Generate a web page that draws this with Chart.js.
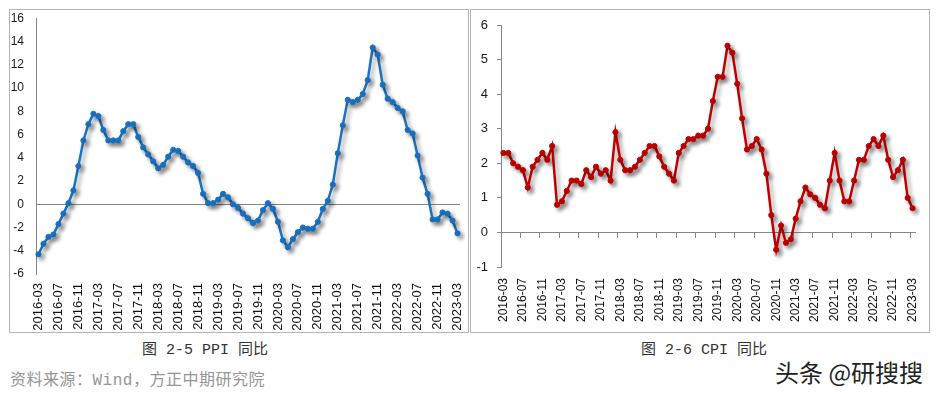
<!DOCTYPE html>
<html>
<head>
<meta charset="utf-8">
<script src="https://cdn.jsdelivr.net/npm/chart.js@4/dist/chart.umd.min.js"></script>
<style>
    html, body { margin: 0; padding: 0; background: #fff; }
    body { width: 936px; height: 394px; position: relative; overflow: hidden; font-family: 'Noto Sans CJK SC', sans-serif; }
    .panel { position: absolute; top: 9px; width: 458px; height: 322px; border: 1px solid #b4b4b4; }
    #ppiPanel { left: 9px; }
    #cpiPanel { left: 470px; }
    .panel canvas { display: block; }
    .caption { position: absolute; top: 341px; line-height: 20px; font-family: 'Liberation Mono', 'Noto Sans CJK SC', monospace; font-size: 15px; color: #333; white-space: nowrap; transform: translateX(-50%); }
    .source { position: absolute; left: 10px; top: 371px; line-height: 20px; font-family: 'Liberation Mono', 'Noto Sans CJK SC', monospace; font-size: 16px; color: #959595; white-space: nowrap; letter-spacing: 0.5px; }
    .mark { position: absolute; left: 775px; top: 358px; line-height: 28px; font-size: 24px; color: #222; white-space: nowrap; text-shadow: 0 0 2px #fff; }
</style>
</head>
<body>
<div class="panel" id="ppiPanel"><canvas id="ppiChart" width="458" height="322"></canvas></div>
<div class="panel" id="cpiPanel"><canvas id="cpiChart" width="458" height="322"></canvas></div>
<div class="caption" style="left: 205px;">图 2-5 PPI 同比</div>
<div class="caption" style="left: 704px;">图 2-6 CPI 同比</div>
<div class="source">资料来源：Wind，方正中期研究院</div>
<div class="mark">头条 @研搜搜</div>

<script>
const months = [
    '2016-03', '2016-04', '2016-05', '2016-06', '2016-07', '2016-08', '2016-09', '2016-10', '2016-11', '2016-12',
    '2017-01', '2017-02', '2017-03', '2017-04', '2017-05', '2017-06', '2017-07', '2017-08', '2017-09', '2017-10', '2017-11', '2017-12',
    '2018-01', '2018-02', '2018-03', '2018-04', '2018-05', '2018-06', '2018-07', '2018-08', '2018-09', '2018-10', '2018-11', '2018-12',
    '2019-01', '2019-02', '2019-03', '2019-04', '2019-05', '2019-06', '2019-07', '2019-08', '2019-09', '2019-10', '2019-11', '2019-12',
    '2020-01', '2020-02', '2020-03', '2020-04', '2020-05', '2020-06', '2020-07', '2020-08', '2020-09', '2020-10', '2020-11', '2020-12',
    '2021-01', '2021-02', '2021-03', '2021-04', '2021-05', '2021-06', '2021-07', '2021-08', '2021-09', '2021-10', '2021-11', '2021-12',
    '2022-01', '2022-02', '2022-03', '2022-04', '2022-05', '2022-06', '2022-07', '2022-08', '2022-09', '2022-10', '2022-11', '2022-12',
    '2023-01', '2023-02', '2023-03',
];

const ppi = [
    -4.3, -3.4, -2.8, -2.6, -1.7, -0.8, 0.1, 1.2, 3.3, 5.5,
    6.9, 7.8, 7.6, 6.4, 5.5, 5.5, 5.5, 6.3, 6.9, 6.9, 5.8, 4.9,
    4.3, 3.7, 3.1, 3.4, 4.1, 4.7, 4.6, 4.1, 3.6, 3.3, 2.7, 0.9,
    0.1, 0.1, 0.4, 0.9, 0.6, 0.0, -0.3, -0.8, -1.2, -1.6, -1.4, -0.5,
    0.1, -0.4, -1.5, -3.1, -3.7, -3.0, -2.4, -2.0, -2.1, -2.1, -1.5, -0.4,
    0.3, 1.7, 4.4, 6.8, 9.0, 8.8, 9.0, 9.5, 10.7, 13.5, 12.9, 10.3,
    9.1, 8.8, 8.3, 8.0, 6.4, 6.1, 4.2, 2.3, 0.9, -1.3, -1.3, -0.7,
    -0.8, -1.4, -2.5,
];

const cpi = [
    2.3, 2.3, 2.0, 1.9, 1.8, 1.3, 1.9, 2.1, 2.3, 2.1,
    2.5, 0.8, 0.9, 1.2, 1.5, 1.5, 1.4, 1.8, 1.6, 1.9, 1.7, 1.8,
    1.5, 2.9, 2.1, 1.8, 1.8, 1.9, 2.1, 2.3, 2.5, 2.5, 2.2, 1.9,
    1.7, 1.5, 2.3, 2.5, 2.7, 2.7, 2.8, 2.8, 3.0, 3.8, 4.5, 4.5,
    5.4, 5.2, 4.3, 3.3, 2.4, 2.5, 2.7, 2.4, 1.7, 0.5, -0.5, 0.2,
    -0.3, -0.2, 0.4, 0.9, 1.3, 1.1, 1.0, 0.8, 0.7, 1.5, 2.3, 1.5,
    0.9, 0.9, 1.5, 2.1, 2.1, 2.5, 2.7, 2.5, 2.8, 2.1, 1.6, 1.8,
    2.1, 1.0, 0.7,
];

const AXIS_GREY = '#868686';
const LABEL_STEP = 4;

Chart.defaults.font.family = "'Liberation Sans', Arial, sans-serif";
Chart.defaults.color = '#1a1a1a';

// soft drop shadow under the line, like the spreadsheet original
const lineShadow = {
    id: 'lineShadow',
    beforeDatasetsDraw(chart) {
        const ctx = chart.ctx;
        ctx.save();
        ctx.shadowColor = 'rgba(0, 0, 0, 0.38)';
        ctx.shadowBlur = 4;
        ctx.shadowOffsetX = 3;
        ctx.shadowOffsetY = 3;
    },
    afterDatasetsDraw(chart) {
        chart.ctx.restore();
    },
};

function lineDataset(label, values, color) {
    return {
        label,
        data: values,
        borderColor: color,
        backgroundColor: color,
        borderWidth: 2.5,
        pointRadius: 2.6,
        pointBorderWidth: 1,
        pointBackgroundColor: color,
        pointBorderColor: color,
        tension: 0,
        fill: false,
    };
}

// fixed axis sizes so the plot area lands where the original has it
function fixWidth(width) {
    return (scale) => {
        scale.width = width;
        scale.paddingTop = 0;
        scale.paddingBottom = 0;
    };
}

function fixHeight(height) {
    return (scale) => {
        scale.height = height;
        scale.paddingLeft = 0;
        scale.paddingRight = 0;
    };
}

function monthTicks(fontSize, padding, height) {
    return {
        offset: true,
        grid: { display: false, drawTicks: false },
        border: { display: false },
        ticks: {
            autoSkip: false,
            minRotation: 90,
            maxRotation: 90,
            padding,
            color: '#111',
            font: { size: fontSize },
            callback(value, index) {
                return index % LABEL_STEP === 0 ? months[index] : '';
            },
        },
        afterFit: fixHeight(height),
    };
}

const baseOptions = {
    responsive: false,
    animation: false,
    plugins: {
        legend: { display: false },
        tooltip: { enabled: false },
    },
};

new Chart(document.getElementById('ppiChart'), {
    type: 'line',
    data: {
        labels: months,
        datasets: [lineDataset('PPI', ppi, '#1a72c2')],
    },
    plugins: [lineShadow],
    options: {
        ...baseOptions,
        layout: { padding: { top: 8.5, right: 8, left: 0, bottom: 0 } },
        scales: {
            x: monthTicks(13, 9, 58),
            y: {
                min: -6,
                max: 16,
                border: { display: true, color: AXIS_GREY },
                grid: {
                    drawTicks: false,
                    color: (ctx) => (ctx.tick && ctx.tick.value === 0 ? AXIS_GREY : 'rgba(0,0,0,0)'),
                },
                ticks: {
                    stepSize: 2,
                    padding: 12,
                    color: '#1a1a1a',
                    font: { size: 12 },
                },
                afterFit: fixWidth(26),
            },
        },
    },
});

new Chart(document.getElementById('cpiChart'), {
    type: 'line',
    data: {
        labels: months,
        datasets: [lineDataset('CPI', cpi, '#c00000')],
    },
    plugins: [lineShadow],
    options: {
        ...baseOptions,
        layout: { padding: { top: 15, right: 14, left: 0, bottom: 0 } },
        scales: {
            x: monthTicks(12, 11, 65),
            // axis line through zero with a tick every fourth month
            x2: {
                type: 'category',
                position: { y: 0 },
                offset: true,
                border: { display: true, color: AXIS_GREY },
                grid: {
                    offset: true,
                    drawOnChartArea: false,
                    drawTicks: true,
                    tickLength: 5,
                    color: (ctx) => (ctx.index % LABEL_STEP === 0 ? AXIS_GREY : 'rgba(0,0,0,0)'),
                },
                ticks: { display: false, autoSkip: false },
            },
            y: {
                min: -1,
                max: 6,
                border: { display: true, color: AXIS_GREY },
                grid: {
                    drawOnChartArea: false,
                    drawTicks: true,
                    tickLength: 4,
                    color: AXIS_GREY,
                },
                ticks: {
                    stepSize: 1,
                    padding: 9,
                    color: '#1a1a1a',
                    font: { size: 13 },
                },
                afterFit: fixWidth(30),
            },
        },
    },
});
</script>
</body>
</html>
